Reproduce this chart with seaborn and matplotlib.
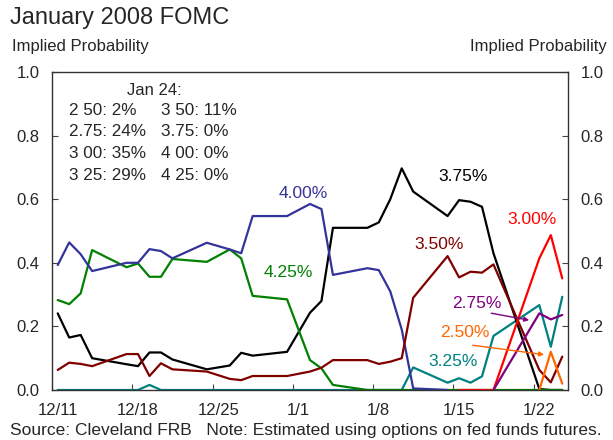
import pandas as pd
import matplotlib.pyplot as plt
import seaborn as sns

# trading days shown on the chart
dates = ["2007-12-11", "2007-12-12", "2007-12-13", "2007-12-14", "2007-12-17",
         "2007-12-18", "2007-12-19", "2007-12-20", "2007-12-21", "2007-12-24",
         "2007-12-26", "2007-12-27", "2007-12-28", "2007-12-31", "2008-01-02",
         "2008-01-03", "2008-01-04", "2008-01-07", "2008-01-08", "2008-01-09",
         "2008-01-10", "2008-01-11", "2008-01-14", "2008-01-15", "2008-01-16",
         "2008-01-17", "2008-01-18", "2008-01-22", "2008-01-23", "2008-01-24"]

nan = float("nan")
p425 = [.283, .270, .304, .440, .386, .398, .356, .356, .412, .403, .442, .414, .296, .285, .094,
        .068, .016, 0, 0, 0, 0, 0, 0, 0, 0, 0, 0, 0, 0, 0]
p400 = [.393, .464, .427, .374, .400, .400, .443, .437, .414, .463, .442, .430, .547, .547, .585,
        .569, .362, .383, .377, .310, .190, .005, 0, nan, nan, nan, nan, nan, nan, nan]
p375 = [.241, .165, .173, .100, .081, .075, .118, .118, .096, .065, .077, .117, .108, .120, .243,
        .280, .510, .510, .527, .600, .697, .624, .547, .597, .592, .576, .430, .003, 0, 0]
p350 = [.063, .086, .082, .075, .113, .113, .044, .084, .065, .058, .035, .031, .044, .044, .058,
        .070, .094, .094, .082, .089, .100, .290, .421, .354, .372, .369, .395, .063, .024, .105]
p325 = [0, 0, 0, 0, 0, 0, .016, 0, 0, 0, 0, 0, 0, 0, 0,
        0, 0, 0, 0, 0, 0, .071, .023, .037, .023, .043, .170, .267, .136, .293]
p300 = [nan] * 23 + [0, 0, 0, 0, .414, .487, .351]
p275 = [nan] * 26 + [0, .241, .222, .236]
p250 = [nan] * 27 + [0, .120, .020]

targets = ["3.25%", "3.75%", "4.25%", "4.00%", "3.50%", "3.00%", "2.75%", "2.50%"]
colors = {"4.00%": "#333399", "4.25%": "#008000", "3.75%": "#000000", "3.50%": "#800000",
          "3.25%": "#008080", "3.00%": "#ff0000", "2.75%": "#800080", "2.50%": "#ff6600"}

tick_labels = ["12/11", "12/18", "12/25", "1/1", "1/8", "1/15", "1/22"]
tick_dates = ["2007-12-11", "2007-12-18", "2007-12-25", "2008-01-01",
              "2008-01-08", "2008-01-15", "2008-01-22"]

box_title = "Jan 24:"
box_left = ["2 50: 2%", "2.75: 24%", "3 00: 35%", "3 25: 29%"]
box_right = ["3 50: 11%", "3.75: 0%", "4 00: 0%", "4 25: 0%"]

df = pd.DataFrame({"Date": pd.to_datetime(dates), "4.25%": p425, "4.00%": p400,
                   "3.75%": p375, "3.50%": p350, "3.25%": p325, "3.00%": p300,
                   "2.75%": p275, "2.50%": p250})
df_long = df.melt(id_vars="Date", var_name="Target", value_name="Probability").dropna()

sns.set_style("ticks")
plt.rcParams["font.family"] = ["Liberation Sans", "DejaVu Sans"]

fig = plt.figure(figsize=(6.13, 4.40), dpi=100)
ax = fig.add_axes([52 / 613, 50 / 440, 516 / 613, 318 / 440])

sns.lineplot(data=df_long, x="Date", y="Probability", hue="Target", hue_order=targets,
             palette=colors, estimator=None, linewidth=1.6, legend=False, ax=ax)

# axes limits / ticks
half = pd.Timedelta(hours=12)
ax.set_xlim(pd.Timestamp(dates[0]) - half, pd.Timestamp(dates[-1]) + half)
ax.set_ylim(0, 1)
ax.set_xlabel("")
ax.set_ylabel("")

tk = pd.to_datetime(tick_dates)
ax.set_xticks(list(tk - half), labels=[""] * len(tk))
ax.set_xticks(list(tk), labels=tick_labels, minor=True)
ax.tick_params(axis="x", which="major", direction="in", length=4, width=0.8, color="#444444")
ax.tick_params(axis="x", which="minor", length=0, pad=9, labelsize=12)

yt = [0.0, 0.2, 0.4, 0.6, 0.8, 1.0]
ax.set_yticks(yt, labels=[f"{v:.1f}" for v in yt])
ax.tick_params(axis="y", direction="in", length=4, width=0.8, color="#444444",
               left=True, right=True, labelleft=True, labelright=True, pad=9, labelsize=12)

for s in ax.spines.values():
    s.set_visible(True)
    s.set_color("#333333")
    s.set_linewidth(1.0)

# series labels
lbl = [("4.00%", 0.487, 0.618), ("4.25%", 0.458, 0.369), ("3.75%", 0.796, 0.671),
       ("3.50%", 0.751, 0.456), ("3.00%", 0.930, 0.535), ("2.75%", 0.824, 0.273),
       ("2.50%", 0.800, 0.180), ("3.25%", 0.778, 0.089)]
for name, fx, fy in lbl:
    ax.text(fx, fy, name, color=colors[name], fontsize=12.5, ha="center", va="center",
            transform=ax.transAxes)

ax.annotate("", xy=(0.930, 0.218), xytext=(0.846, 0.243), xycoords="axes fraction",
            arrowprops=dict(arrowstyle="-|>", color=colors["2.75%"], lw=1, mutation_scale=7))
ax.annotate("", xy=(0.959, 0.110), xytext=(0.810, 0.142), xycoords="axes fraction",
            arrowprops=dict(arrowstyle="-|>", color=colors["2.50%"], lw=1, mutation_scale=7))

# Jan 24 text box
ax.text(0.145, 0.943, box_title, fontsize=12, ha="left", va="center", transform=ax.transAxes)
for i, (a, b) in enumerate(zip(box_left, box_right)):
    fy = 0.8805 - i * 0.0683
    ax.text(0.032, fy, a, fontsize=12.3, ha="left", va="center", transform=ax.transAxes)
    ax.text(0.211, fy, b, fontsize=12.3, ha="left", va="center", transform=ax.transAxes)

fig.text(10 / 613, 1 - 18 / 440, "January 2008 FOMC", fontsize=17, ha="left", va="center")
fig.text(12 / 613, 1 - 46 / 440, "Implied Probability", fontsize=12, ha="left", va="center")
fig.text(607 / 613, 1 - 46 / 440, "Implied Probability", fontsize=12, ha="right", va="center")
fig.text(10 / 613, 1 - 430 / 440,
         "Source: Cleveland FRB   Note: Estimated using options on fed funds futures.",
         fontsize=12.5, ha="left", va="center")

fig.savefig("out.png", dpi=100)
plt.close(fig)
